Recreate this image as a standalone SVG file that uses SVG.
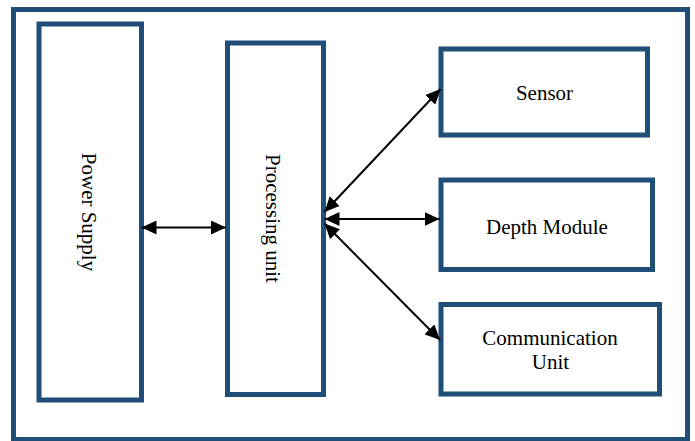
<svg xmlns="http://www.w3.org/2000/svg" width="695" height="441" viewBox="0 0 695 441">
<style>
.box{fill:#fff;stroke:#1F4E79;stroke-width:5}
.lbl{font-family:"Liberation Serif","Times New Roman",serif;font-size:21px;fill:#000;text-anchor:middle}
.con{stroke:#000;stroke-width:2;fill:none;marker-start:url(#ah);marker-end:url(#ah)}
</style>
<defs>
<marker id="ah" markerUnits="userSpaceOnUse" markerWidth="16" markerHeight="14" refX="15" refY="7" orient="auto-start-reverse">
<path d="M0,0 L15,7 L0,14 z" fill="#000"/>
</marker>
</defs>
<rect width="695" height="441" fill="#fff"/>
<rect id="frame" x="13.5" y="9.5" width="674" height="430" fill="none" stroke="#1F4E79" stroke-width="5"/>
<g id="power">
<rect class="box" x="39" y="24" width="102.5" height="376"/>
<text class="lbl" transform="translate(82,212) rotate(90)">Power Supply</text>
</g>
<g id="processing">
<rect class="box" x="227.5" y="43" width="96" height="351.5"/>
<text class="lbl" transform="translate(266,218.5) rotate(90)">Processing unit</text>
</g>
<g id="sensor">
<rect class="box" x="441" y="49" width="206.5" height="86"/>
<text class="lbl" x="544.5" y="100">Sensor</text>
</g>
<g id="depth">
<rect class="box" x="441" y="180" width="211.5" height="89.5"/>
<text class="lbl" x="547" y="233.5">Depth Module</text>
</g>
<g id="comm">
<rect class="box" x="441" y="304.5" width="218.5" height="89.5"/>
<text class="lbl" x="550" y="344.5">Communication</text>
<text class="lbl" x="550.5" y="369">Unit</text>
</g>
<g id="connectors">
<line class="con" x1="141.5" y1="227.5" x2="226" y2="227.5"/>
<line class="con" x1="324.5" y1="212" x2="440.5" y2="89"/>
<line class="con" x1="324.5" y1="219" x2="439.5" y2="219"/>
<line class="con" x1="324.5" y1="223.5" x2="440" y2="340"/>
</g>
</svg>
